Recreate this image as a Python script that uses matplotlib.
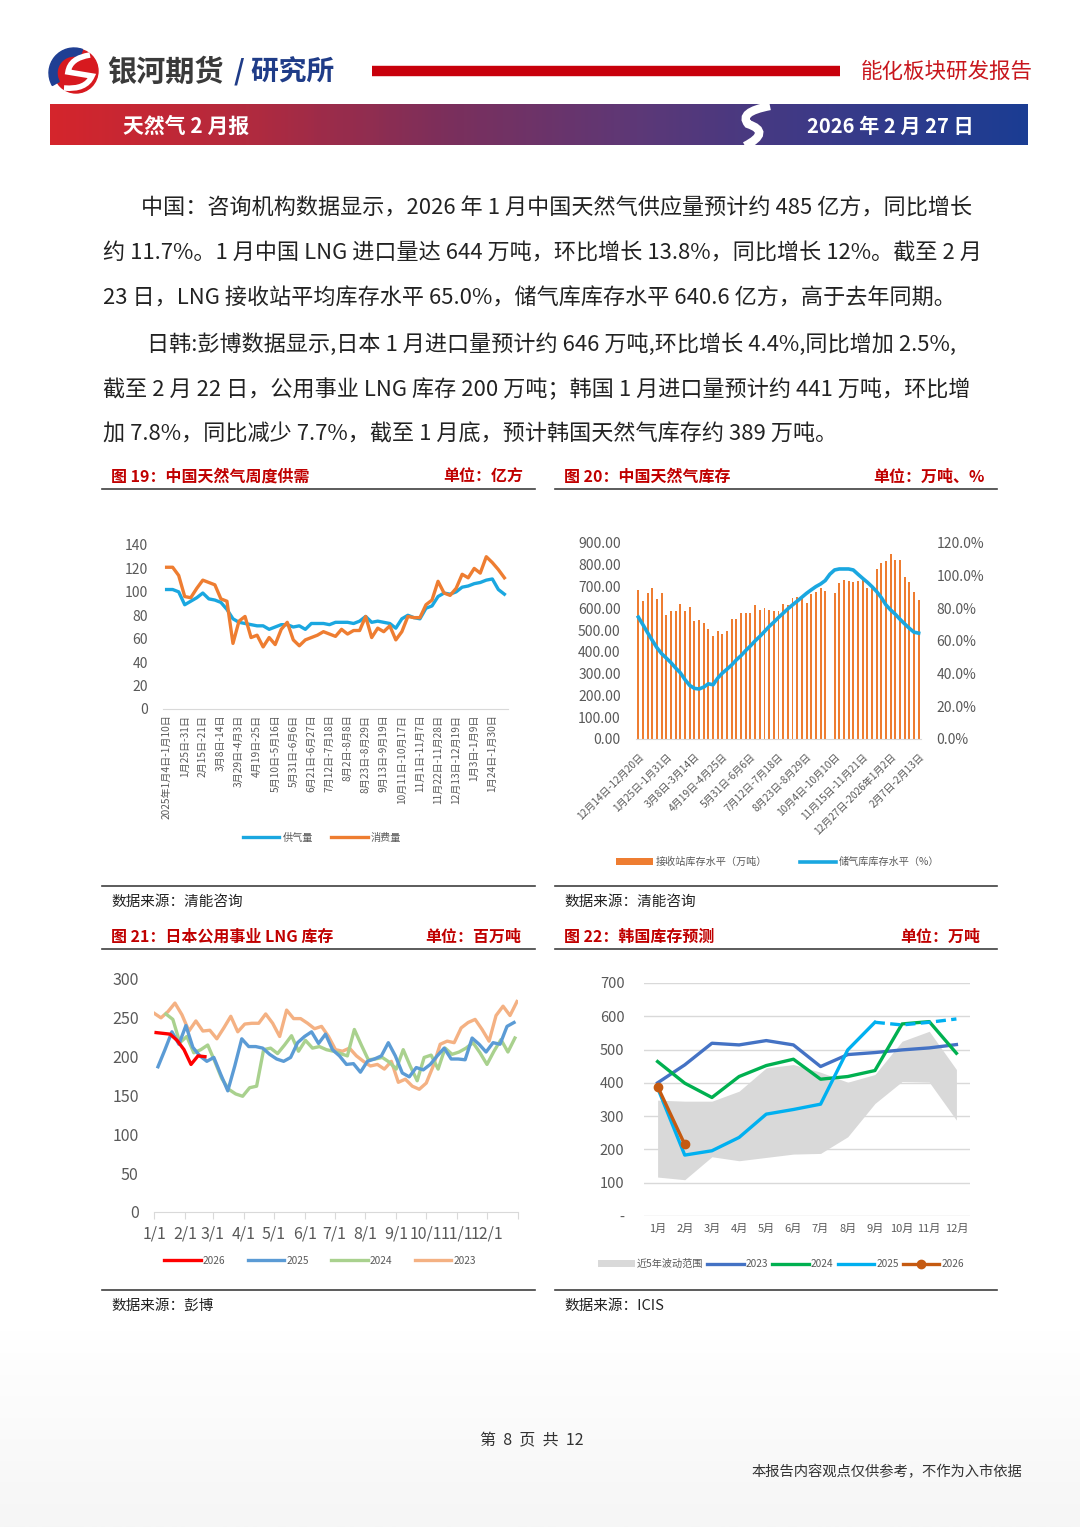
import numpy as np
import matplotlib
matplotlib.use('Agg')
import matplotlib.pyplot as plt
from matplotlib.colors import LinearSegmentedColormap
from matplotlib.patches import Circle, Wedge, PathPatch
from matplotlib.path import Path

plt.rcParams['font.family'] = ['Noto Sans CJK SC', 'DejaVu Sans']

W, H = 1080, 1527

# ---------------- 数据 ----------------
# 图19 中国天然气周度供需（亿方）
labels19 = ["2025年1月4日-1月10日", "1月25日-31日", "2月15日-21日", "3月8日-14日",
            "3月29日-4月3日", "4月19日-25日", "5月10日-5月16日", "5月31日-6月6日",
            "6月21日-6月27日", "7月12日-7月18日", "8月2日-8月8日", "8月23日-8月29日",
            "9月13日-9月19日", "10月11日-10月17日", "11月1日-11月7日", "11月22日-11月28日",
            "12月13日-12月19日", "1月3日-1月9日", "1月24日-1月30日"]
supply19 = [102, 102, 100, 89, 92, 95, 99, 94, 93, 91, 85, 77, 74, 73, 72, 71, 71, 68, 70, 72,
            72, 70, 71, 68, 73, 73, 73, 72, 74, 74, 74, 73, 75, 79, 74, 75, 74, 73, 69, 77,
            80, 78, 77, 86, 88, 96, 99, 98, 100, 104, 105, 107, 108, 110, 111, 102, 98]
consume19 = [121, 121, 114, 96, 95, 103, 110, 108, 106, 94, 92, 56, 75, 79, 61, 63, 53, 61, 55, 68,
             74, 59, 54, 59, 61, 63, 66, 64, 62, 68, 64, 67, 67, 79, 61, 69, 66, 71, 59, 66,
             79, 78, 78, 89, 93, 109, 99, 97, 103, 115, 112, 120, 116, 130, 125, 119, 112]

# 图20 中国天然气库存
labels20 = ["12月14日-12月20日", "1月25日-1月31日", "3月8日-3月14日", "4月19日-4月25日",
            "5月31日-6月6日", "7月12日-7月18日", "8月23日-8月29日", "10月4日-10月10日",
            "11月15日-11月21日", "12月27日-2026年1月2日", "2月7日-2月13日"]
lng_stock = [683, 632, 670, 693, 643, 670, 571, 586, 586, 621,
             586, 605, 540, 548, 533, 505, 474, 494, 482, 497,
             553, 553, 579, 579, 579, 614, 594, 602, 594, 589,
             589, 621, 617, 647, 652, 655, 625, 667, 673, 693,
             678, np.nan, 670, 716, 729, 726, 723, 726, 729, 693,
             708, 780, 808, 816, 851, 820, 820, 744, 723, 675, 640]
storage_pct = [74.6, 69.9, 65.0, 60.3, 55.8, 52.2, 49.5, 46.7, 43.4, 40.5,
               36.3, 32.8, 31.0, 30.6, 31.8, 33.8, 33.2, 37.3, 40.4, 42.8,
               45.4, 48.5, 51.1, 54.2, 57.0, 60.1, 62.8, 65.8, 68.9, 71.5,
               74.4, 77.0, 79.7, 82.1, 84.4, 86.8, 89.2, 91.3, 93.3, 94.9,
               97.0, 100.9, 103.5, 104.1, 104.1, 104.1, 103.5, 100.9, 98.4, 96.0,
               93.3, 90.3, 86.6, 82.1, 79.0, 76.4, 73.3, 70.5, 67.8, 65.4, 64.8]

# 图21 日本公用事业LNG库存（周度，起始周偏移）
jp_2023 = [256, 250, 258, 269, 254, 233, 246, 233, 234, 223, 237, 252, 232, 242, 243, 243, 255,
           243, 226, 260, 249, 249, 243, 236, 239, 226, 209, 207, 211, 201, 194, 188, 190, 184,
           194, 167, 171, 162, 158, 166, 188, 216, 220, 218, 237, 244, 248, 235, 220, 253, 265,
           253, 271]
jp_2024 = [255, 248, 218, 226, 205, 209, 215, 194, 172, 158, 152, 149, 160, 162, 209, 211, 204,
           215, 227, 207, 221, 211, 213, 209, 207, 204, 201, 235, 215, 196, 197, 199, 193, 184,
           209, 188, 169, 199, 202, 184, 211, 203, 206, 211, 218, 205, 190, 207, 222, 206, 224]
jp_2025 = [187, 209, 232, 216, 240, 212, 201, 194, 199, 177, 156, 188, 223, 213, 213, 211, 203,
           197, 194, 199, 218, 226, 232, 217, 229, 209, 201, 190, 191, 180, 194, 197, 201, 218,
           201, 179, 174, 186, 183, 190, 201, 211, 197, 197, 196, 224, 216, 206, 218, 216, 239, 244]
jp_2026 = [231, 230, 229, 221, 209, 190, 201, 200]
jp_start_week = {'2023': 0.0, '2024': 1.7, '2025': 0.57, '2026': 0.3}
month_days = [0, 31, 59, 90, 120, 151, 181, 212, 243, 273, 304, 334, 365]
month_labels21 = ['1/1', '2/1', '3/1', '4/1', '5/1', '6/1', '7/1', '8/1', '9/1', '10/1', '11/1', '12/1', '']

# 图22 韩国库存预测（万吨）
months22 = ['1月', '2月', '3月', '4月', '5月', '6月', '7月', '8月', '9月', '10月', '11月', '12月']
kr_low = [117, 109, 178, 166, 176, 186, 188, 238, 338, 404, 402, 288]
kr_high = [348, 345, 345, 375, 445, 455, 432, 402, 425, 525, 555, 440]
kr_2023 = [400, 454, 519, 514, 527, 514, 449, 485, 491, 499, 505, 515]
kr_2024 = [464, 399, 356, 419, 452, 471, 411, 419, 437, 577, 584, 489]
kr_2025 = [385, 183, 196, 236, 306, 320, 336, 499, 582, 574, 582, 592]
kr_2026 = [389, 215]

body_lines = [
    (141, 209, "中国：咨询机构数据显示，2026 年 1 月中国天然气供应量预计约 485 亿方，同比增长"),
    (103, 254, "约 11.7%。1 月中国 LNG 进口量达 644 万吨，环比增长 13.8%，同比增长 12%。截至 2 月"),
    (103, 299, "23 日，LNG 接收站平均库存水平 65.0%，储气库库存水平 640.6 亿方，高于去年同期。"),
    (147, 345, "日韩:彭博数据显示,日本 1 月进口量预计约 646 万吨,环比增长 4.4%,同比增加 2.5%,"),
    (103, 390, "截至 2 月 22 日，公用事业 LNG 库存 200 万吨；韩国 1 月进口量预计约 441 万吨，环比增"),
    (103, 435, "加 7.8%，同比减少 7.7%，截至 1 月底，预计韩国天然气库存约 389 万吨。"),
]

RED = '#c00000'
GRAY_T = '#595959'

fig = plt.figure(figsize=(W / 100, H / 100), dpi=100)
bg = fig.add_axes([0, 0, 1, 1])
bg.set_xlim(0, W)
bg.set_ylim(H, 0)
bg.axis('off')


def axes_px(x0, y0, x1, y1):
    a = fig.add_axes([x0 / W, 1 - y1 / H, (x1 - x0) / W, (y1 - y0) / H])
    a.set_facecolor('none')
    return a


def fpos(x, y):
    return (x / W, 1 - y / H)


# 页面底部淡灰
grad = np.linspace(0, 1, 100).reshape(-1, 1)
bg.imshow(grad, extent=[0, W, 1527, 1330], origin='upper',
          cmap=LinearSegmentedColormap.from_list('g', ['#ffffff', '#f6f6f6']),
          aspect='auto', zorder=0)

# ---------------- 页眉 ----------------
bg.add_patch(Circle((76, 71), 22, color='#d7191f', zorder=2))
bg.add_patch(Wedge((74, 73), 25, 150, 290, width=8, color='#1f3f93', zorder=3))
s_path = Path([(90, 55), (70, 58), (68, 72), (80, 74), (92, 76), (86, 90), (64, 88)],
              [Path.MOVETO, Path.CURVE3, Path.CURVE3, Path.CURVE3, Path.CURVE3, Path.CURVE3, Path.CURVE3])
bg.add_patch(PathPatch(s_path, fill=False, ec='white', lw=4, zorder=4))
bg.text(107, 72, "银河期货", fontsize=21, fontweight='heavy', color='#3a3a3a', va='center', ha='left')
bg.text(234, 72, "/ 研究所", fontsize=20, fontweight='bold', color='#1f3c88', va='center', ha='left')
bg.plot([372, 840], [71, 71], color='#c8000b', lw=7.5, solid_capstyle='butt')
bg.text(1033, 72, "能化板块研发报告", fontsize=15.5, color='#c8161d', va='center', ha='right')

cm_ban = LinearSegmentedColormap.from_list('ban', ['#d4252c', '#b22a3e', '#7c2f5b', '#5d3877', '#3a3a88', '#1b3d93'])
bg.imshow(np.linspace(0, 1, 300).reshape(1, -1), extent=[50, 1028, 145, 104], cmap=cm_ban, aspect='auto', zorder=1)
sw = Path([(770, 106), (738, 112), (748, 124), (772, 132), (745, 146)],
          [Path.MOVETO, Path.CURVE3, Path.CURVE3, Path.CURVE3, Path.CURVE3])
bg.add_patch(PathPatch(sw, fill=False, ec='white', lw=6, zorder=3))
bg.text(123, 126, "天然气 2 月报", fontsize=15, fontweight='bold', color='white', va='center', ha='left', zorder=4)
bg.text(807, 126, "2026 年 2 月 27 日", fontsize=14.5, fontweight='bold', color='white', va='center', ha='left', zorder=4)

# ---------------- 正文 ----------------
for x, y, t in body_lines:
    bg.text(x, y, t, fontsize=15.9, color='#222222', va='center', ha='left')

# ---------------- 图框标题 ----------------
def frame(x0, x1, ytitle, title, unit, ysrc_line, src, unit_x):
    bg.text(x0 + 9, ytitle, title, fontsize=11.5, fontweight='bold', color=RED, va='center', ha='left')
    bg.text(unit_x, ytitle, unit, fontsize=11.5, fontweight='bold', color=RED, va='center', ha='right')
    bg.plot([x0, x1], [ytitle + 12, ytitle + 12], color='#404040', lw=1.2)
    bg.plot([x0, x1], [ysrc_line, ysrc_line], color='#404040', lw=1.2)
    bg.text(x0 + 9, ysrc_line + 16, src, fontsize=10.5, color='#222222', va='center', ha='left')


frame(102, 535, 477, "图 19：中国天然气周度供需", "单位：亿方", 886, "数据来源：清能咨询", 523)
frame(555, 997, 477, "图 20：中国天然气库存", "单位：万吨、%", 886, "数据来源：清能咨询", 985)
frame(102, 535, 937, "图 21：日本公用事业 LNG 库存", "单位：百万吨", 1290, "数据来源：彭博", 521)
frame(555, 997, 937, "图 22：韩国库存预测", "单位：万吨", 1290, "数据来源：ICIS", 980)

# ---------------- 图19 ----------------
ax1 = axes_px(163, 545, 508, 709)
x19 = np.arange(len(supply19))
ax1.plot(x19, supply19, color='#1aa7e0', lw=2.4, label='供气量')
ax1.plot(x19, consume19, color='#ee7d31', lw=2.4, label='消费量')
ax1.set_xlim(-0.6, len(supply19) - 0.4)
ax1.set_ylim(0, 140)
ax1.set_yticks(range(0, 141, 20))
ax1.set_xticks(np.arange(0, 3 * len(labels19), 3))
ax1.set_xticklabels(labels19, rotation=90, fontsize=7.3, color=GRAY_T, va='top', ha='center')
ax1.tick_params(axis='x', length=0, pad=4)
ax1.tick_params(axis='y', length=0, pad=11, labelsize=10, labelcolor=GRAY_T)
for s in ['top', 'right', 'left']:
    ax1.spines[s].set_visible(False)
ax1.spines['bottom'].set_color('#d9d9d9')
ax1.legend(loc='center', bbox_to_anchor=fpos(322, 838), bbox_transform=fig.transFigure, ncol=2,
           frameon=False, fontsize=7.3, handlelength=3.6, columnspacing=1.8, handletextpad=0.3,
           labelcolor=GRAY_T)

# ---------------- 图20 ----------------
ax2 = axes_px(636, 543, 921, 739)
x20 = np.arange(len(lng_stock))
ax2.bar(x20, lng_stock, width=0.42, color='#ee7d31', label='接收站库存水平（万吨）')
ax2.set_xlim(-0.5, len(lng_stock) - 0.5)
ax2.set_ylim(0, 900)
ax2.set_yticks(range(0, 901, 100))
ax2.set_yticklabels([f"{v:.2f}" for v in range(0, 901, 100)])
ax2.set_xticks(np.arange(0, 6 * len(labels20), 6))
ax2.set_xticklabels(labels20, rotation=45, fontsize=7.3, color=GRAY_T, ha='right', va='top',
                    rotation_mode='anchor')
ax2.tick_params(axis='x', length=0, pad=9)
ax2.tick_params(axis='y', length=0, pad=11, labelsize=10, labelcolor=GRAY_T)
for s in ['top', 'right', 'left']:
    ax2.spines[s].set_visible(False)
ax2.spines['bottom'].set_color('#d9d9d9')
ax2b = ax2.twinx()
ax2b.plot(x20, storage_pct, color='#1aa7e0', lw=2.6, label='储气库库存水平（%）')
ax2b.set_ylim(0, 120)
ax2b.set_yticks(range(0, 121, 20))
ax2b.set_yticklabels([f"{v:.1f}%" for v in range(0, 121, 20)])
ax2b.tick_params(axis='y', length=0, pad=11, labelsize=10, labelcolor=GRAY_T)
for s in ['top', 'right', 'left', 'bottom']:
    ax2b.spines[s].set_visible(False)
h1, l1 = ax2.get_legend_handles_labels()
h2, l2 = ax2b.get_legend_handles_labels()
ax2b.legend(h1 + h2, l1 + l2, loc='center', bbox_to_anchor=fpos(778, 862), bbox_transform=fig.transFigure,
            ncol=2, frameon=False, fontsize=7.3, handlelength=3.6, columnspacing=3.2, handletextpad=0.3,
            labelcolor=GRAY_T)

# ---------------- 图21 ----------------
ax3 = axes_px(154, 979, 518, 1212)
jp_series = [('2023', jp_2023, '#f4b183'), ('2024', jp_2024, '#a9d18e'),
             ('2025', jp_2025, '#5b9bd5'), ('2026', jp_2026, '#ff0000')]
handles = {}
for name, vals, col in jp_series:
    days = (jp_start_week[name] + np.arange(len(vals))) * 7
    handles[name], = ax3.plot(days, vals, color=col, lw=2.4)
ax3.set_xlim(0, 365)
ax3.set_ylim(0, 300)
ax3.set_yticks(range(0, 301, 50))
ax3.set_xticks(month_days)
ax3.set_xticklabels(month_labels21)
ax3.tick_params(axis='x', length=5, color='#d9d9d9', pad=5, labelsize=11.5, labelcolor=GRAY_T)
ax3.tick_params(axis='y', length=0, pad=11, labelsize=11.5, labelcolor=GRAY_T)
for s in ['top', 'right', 'left']:
    ax3.spines[s].set_visible(False)
ax3.spines['bottom'].set_color('#d9d9d9')
order = ['2026', '2025', '2024', '2023']
ax3.legend([handles[k] for k in order], order, loc='center', bbox_to_anchor=fpos(320, 1261),
           bbox_transform=fig.transFigure, ncol=4, frameon=False, fontsize=7.3, handlelength=3.6,
           columnspacing=2.2, handletextpad=0.2, labelcolor=GRAY_T)

# ---------------- 图22 ----------------
ax4 = axes_px(644, 983, 970, 1216)
x22 = np.arange(len(months22))
band = ax4.fill_between(x22, kr_low, kr_high, color='#d9d9d9', lw=0, label='近5年波动范围')
l23, = ax4.plot(x22, kr_2023, color='#4472c4', lw=2.4, label='2023')
l24, = ax4.plot(x22, kr_2024, color='#00b050', lw=2.4, label='2024')
l25, = ax4.plot(x22[:9], kr_2025[:9], color='#00b0f0', lw=2.4, label='2025')
ax4.plot(x22[8:], kr_2025[8:], color='#00b0f0', lw=2.4, ls=(0, (3, 1.6)))
l26, = ax4.plot(x22[:len(kr_2026)], kr_2026, color='#c55a11', lw=2.4, marker='o', ms=6, label='2026')
ax4.set_xlim(-0.5, 11.5)
ax4.set_ylim(0, 700)
ax4.set_yticks(range(0, 701, 100))
ax4.set_yticklabels(['-'] + [str(v) for v in range(100, 701, 100)])
ax4.set_xticks(x22)
ax4.set_xticklabels(months22)
ax4.grid(axis='y', color='#d9d9d9', lw=1)
ax4.set_axisbelow(True)
ax4.tick_params(axis='x', length=0, pad=6, labelsize=8, labelcolor=GRAY_T)
ax4.tick_params(axis='y', length=0, pad=14, labelsize=10.5, labelcolor=GRAY_T)
for s in ['top', 'right', 'left', 'bottom']:
    ax4.spines[s].set_visible(False)
ax4.legend([band, l23, l24, l25, l26], ['近5年波动范围', '2023', '2024', '2025', '2026'], loc='center',
           bbox_to_anchor=fpos(781, 1264), bbox_transform=fig.transFigure, ncol=5, frameon=False,
           fontsize=7.3, handlelength=3.6, columnspacing=0.4, handletextpad=0.2, labelcolor=GRAY_T)

# ---------------- 页脚 ----------------
bg.text(532, 1441, "第  8  页  共  12", fontsize=11.5, color='#333333', va='center', ha='center')
bg.text(1022, 1472, "本报告内容观点仅供参考，不作为入市依据", fontsize=10.3, color='#333333', va='center', ha='right')

fig.savefig('out.png', dpi=100)
